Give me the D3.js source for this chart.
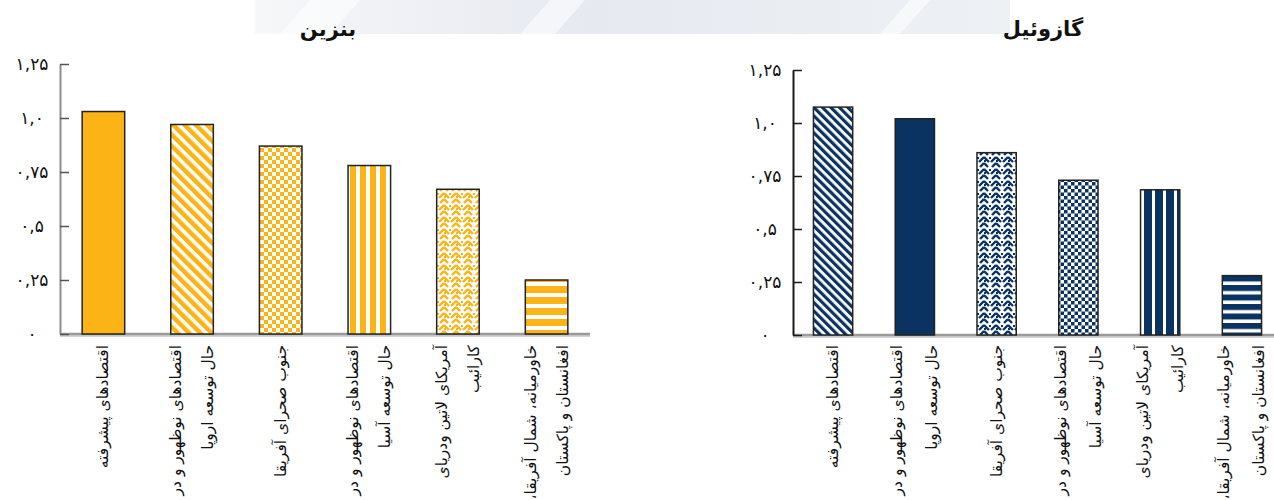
<!DOCTYPE html>
<html>
<head>
<meta charset="utf-8">
<script src="https://cdn.jsdelivr.net/npm/d3@7"></script>
<style>
  body { margin: 0; background: #fff; }
  svg { display: block; }
  text { font-family: "DejaVu Sans", sans-serif; }
</style>
</head>
<body>
<svg width="1274" height="500"></svg>
<script>
// category labels (line breaks as in the original)
const categories = [
  ["اقتصادهای پیشرفته"],
  ["اقتصادهای نوظهور و در", "حال توسعه اروپا"],
  ["جنوب صحرای آفریقا"],
  ["اقتصادهای نوظهور و در", "حال توسعه آسیا"],
  ["آمریکای لاتین ودریای", "کارائیب"],
  ["خاورمیانه، شمال آفریقا،", "افغانستان و پاکستان"]
];
const benzinValues = [1.03, 0.97, 0.87, 0.78, 0.67, 0.25];
const gasoilValues = [1.075, 1.02, 0.86, 0.73, 0.685, 0.28];
const yTickValues = [0, 0.25, 0.5, 0.75, 1, 1.25];
const yTickLabels = ["۰", "۰,۲۵", "۰,۵", "۰,۷۵", "۱,۰", "۱,۲۵"];

const svg = d3.select("svg");
const defs = svg.append("defs");

// faint banner behind the titles
const grad = defs.append("linearGradient").attr("id", "band");
grad.append("stop").attr("offset", "0%").attr("stop-color", "#f6f7f9");
grad.append("stop").attr("offset", "45%").attr("stop-color", "#e6e9f0");
grad.append("stop").attr("offset", "100%").attr("stop-color", "#eef1f4");
svg.append("rect").attr("x", 255).attr("y", 0).attr("width", 755).attr("height", 34)
  .attr("fill", "url(#band)");
[[280, 330], [520, 555], [880, 900]].forEach(([a, b]) => {
  svg.append("polygon")
    .attr("points", `${a},34 ${b},34 ${b + 30},0 ${a + 30},0`)
    .attr("fill", "#fff").attr("opacity", 0.55);
});

// pattern helpers
function stripes(id, color, period, colorWidth, angle) {
  const p = defs.append("pattern").attr("id", id)
    .attr("patternUnits", "userSpaceOnUse")
    .attr("width", period).attr("height", period)
    .attr("patternTransform", `rotate(${angle})`);
  p.append("rect").attr("width", period).attr("height", period).attr("fill", "#fff");
  p.append("rect").attr("width", colorWidth).attr("height", period).attr("fill", color);
}
function checker(id, color, cell) {
  const p = defs.append("pattern").attr("id", id)
    .attr("patternUnits", "userSpaceOnUse")
    .attr("width", cell * 2).attr("height", cell * 2);
  p.append("rect").attr("width", cell * 2).attr("height", cell * 2).attr("fill", "#fff");
  p.append("rect").attr("width", cell).attr("height", cell).attr("fill", color);
  p.append("rect").attr("x", cell).attr("y", cell).attr("width", cell).attr("height", cell).attr("fill", color);
}
function weave(id, color) {
  const p = defs.append("pattern").attr("id", id)
    .attr("patternUnits", "userSpaceOnUse")
    .attr("width", 12).attr("height", 12);
  p.append("rect").attr("width", 12).attr("height", 12).attr("fill", "#fff");
  p.append("path").attr("d", "M0,1 L5,6 M7,6 L12,1 M0,7 L4,11 M8,11 L12,7")
    .attr("stroke", color).attr("stroke-width", 2.4).attr("fill", "none");
  p.append("rect").attr("x", 5).attr("y", 1).attr("width", 2).attr("height", 2).attr("fill", color);
  p.append("rect").attr("x", 0).attr("y", 4).attr("width", 2).attr("height", 2).attr("fill", color);
}

const charts = [
  {
    key: "b", title: "بنزین", values: benzinValues, color: "#fcb316",
    x0: 60, x1: 590, yTop: 64, yBottom: 334, titleX: 328,
    axisColor: "#8c8c8c", tickColor: "#555", lineGap: 32,
    fills: ["solid", "diag", "check", "vstripe", "weave", "hstripe"],
    diag: [8, 4.5], check: 4, vstripe: [10, 6], hstripe: [11, 7]
  },
  {
    key: "g", title: "گازوئیل", values: gasoilValues, color: "#0a3361",
    x0: 793, x1: 1282, yTop: 70, yBottom: 335, titleX: 1043,
    axisColor: "#1a1a1a", tickColor: "#1a1a1a", lineGap: 35,
    fills: ["diag", "solid", "weave", "check", "vstripe", "hstripe"],
    diag: [6, 3.2], check: 3.5, vstripe: [11, 8], hstripe: [9.5, 6]
  }
];

charts.forEach(c => {
  stripes(c.key + "-diag", c.color, c.diag[0], c.diag[1], -45);
  checker(c.key + "-check", c.color, c.check);
  stripes(c.key + "-vstripe", c.color, c.vstripe[0], c.vstripe[1], 0);
  stripes(c.key + "-hstripe", c.color, c.hstripe[0], c.hstripe[1], 90);
  weave(c.key + "-weave", c.color);

  const x = d3.scaleBand()
    .domain(d3.range(categories.length))
    .range([c.x0, c.x1])
    .paddingInner(0.52)
    .paddingOuter(0.25);

  const y = d3.scaleLinear()
    .domain([0, 1.25])
    .range([c.yBottom, c.yTop]);

  const g = svg.append("g");

  // title
  g.append("text")
    .attr("x", c.titleX)
    .attr("y", 36)
    .attr("text-anchor", "middle")
    .style("font-size", "21px")
    .style("font-weight", "bold")
    .attr("fill", "#111")
    .text(c.title);

  // baseline
  g.append("line")
    .attr("x1", c.x0).attr("x2", Math.min(c.x1, 1274))
    .attr("y1", c.yBottom + 2).attr("y2", c.yBottom + 2)
    .attr("stroke", "#d2d2d2").attr("stroke-width", 2);
  g.append("line")
    .attr("x1", c.x0).attr("x2", Math.min(c.x1, 1274))
    .attr("y1", c.yBottom).attr("y2", c.yBottom)
    .attr("stroke", "#9a9a9a").attr("stroke-width", 2.5);

  // bars
  g.selectAll("rect.bar")
    .data(c.values)
    .enter()
    .append("rect")
    .attr("class", "bar")
    .attr("x", (d, i) => x(i))
    .attr("y", d => y(d))
    .attr("width", x.bandwidth())
    .attr("height", d => y(0) - y(d))
    .attr("fill", (d, i) => c.fills[i] === "solid" ? c.color : `url(#${c.key}-${c.fills[i]})`)
    .attr("stroke", "#222")
    .attr("stroke-width", 1.5);

  // y axis, ticks pointing inward
  const ax = g.append("g")
    .attr("transform", `translate(${c.x0},0)`)
    .call(d3.axisLeft(y)
      .tickValues(yTickValues)
      .tickFormat((d, i) => yTickLabels[i])
      .tickSizeInner(-9)
      .tickSizeOuter(0));
  ax.select(".domain").attr("stroke", c.axisColor).attr("stroke-width", 2);
  ax.selectAll(".tick line").attr("stroke", c.tickColor).attr("stroke-width", 1.5);
  ax.selectAll(".tick text")
    .attr("x", -28)
    .attr("text-anchor", "middle")
    .attr("fill", "#111")
    .style("font-size", "17px")
    .style("font-family", "DejaVu Sans, sans-serif");

  // category labels, rotated
  const lab = g.selectAll("g.lab")
    .data(categories)
    .enter()
    .append("g")
    .attr("class", "lab")
    .attr("transform", (d, i) => `translate(${x(i) + x.bandwidth() / 2},345)`);

  lab.each(function(lines) {
    const n = lines.length;
    d3.select(this).selectAll("text")
      .data(lines)
      .enter()
      .append("text")
      .attr("transform", "rotate(-90)")
      .attr("direction", "rtl")
      .attr("x", 0)
      .attr("y", (d, j) => (j - (n - 1) / 2) * c.lineGap + 5)
      .attr("text-anchor", "start")
      .attr("fill", "#111")
      .style("font-size", "15.5px")
      .text(d => d);
  });
});
</script>
</body>
</html>
